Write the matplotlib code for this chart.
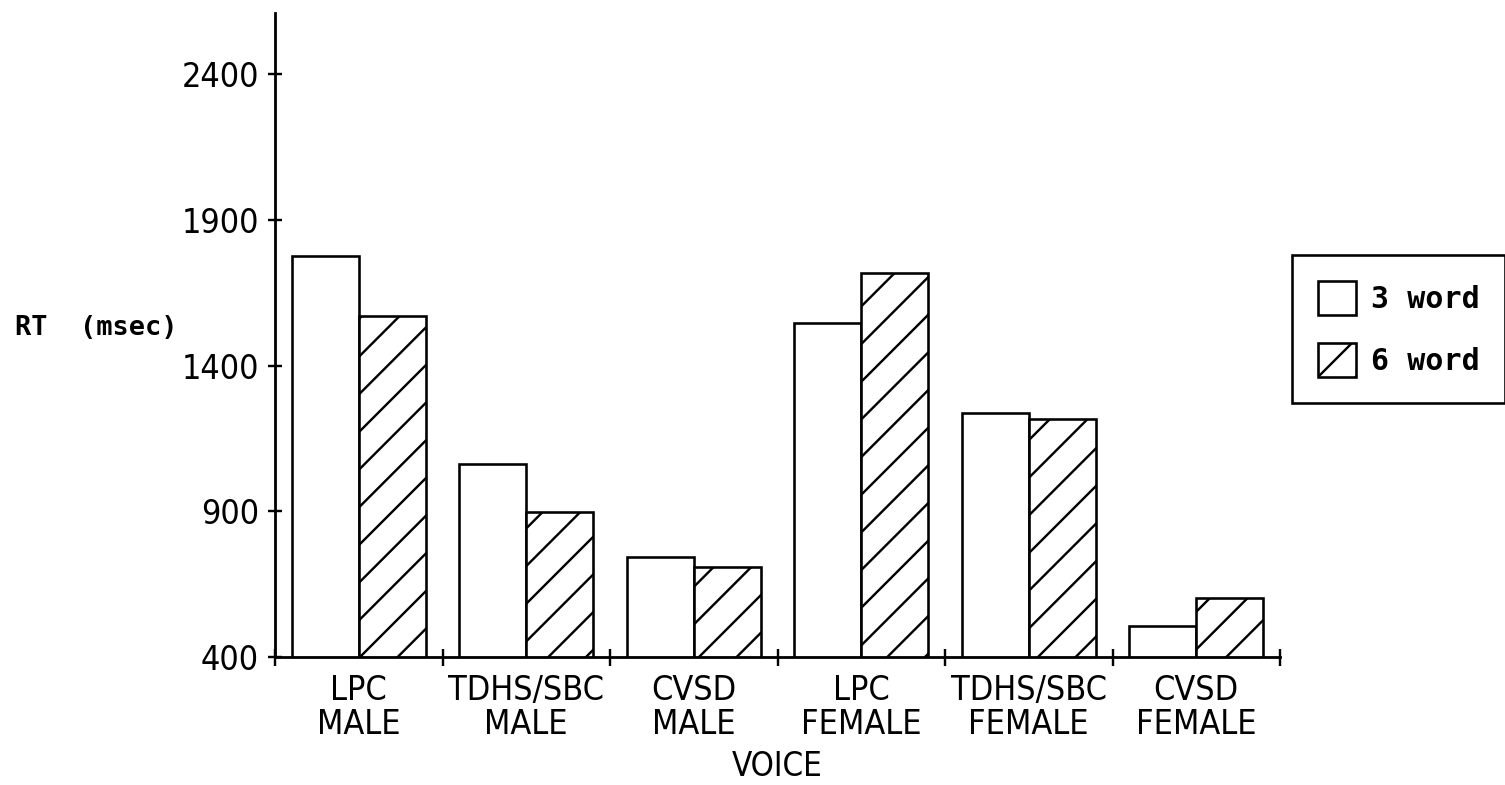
import matplotlib
matplotlib.use("Agg")
import matplotlib.pyplot as plt
from matplotlib.patches import Patch
import numpy as np

# data
voices = ["LPC\nMALE", "TDHS/SBC\nMALE", "CVSD\nMALE",
          "LPC\nFEMALE", "TDHS/SBC\nFEMALE", "CVSD\nFEMALE"]
rt_3word = [1777, 1062, 743, 1546, 1237, 506]
rt_6word = [1570, 898, 709, 1718, 1216, 603]
yticks = [400, 900, 1400, 1900, 2400]

# high dpi so the hatch lines come out widely spaced like the plotter drawing
DPI = 226
PX = 72 / DPI  # points per pixel

plt.rcParams['font.family'] = ['DejaVu Sans']
plt.rcParams['font.stretch'] = 'condensed'
plt.rcParams['hatch.linewidth'] = 2.4 * PX
plt.rcParams['hatch.color'] = 'black'

fig = plt.figure(figsize=(1505 / DPI, 785 / DPI), dpi=DPI)
W, H = 1505, 785
ax = fig.add_axes([275 / W, 1 - 657 / H, (1280 - 275) / W, (657 - 13) / H])

x = np.arange(len(voices))
bw = 0.4
lw = 2.6 * PX
ax.bar(x - bw / 2, rt_3word, bw, color='white', edgecolor='black', linewidth=lw)
ax.bar(x + bw / 2, rt_6word, bw, color='white', edgecolor='black', linewidth=lw,
       hatch='//')

ax.set_xlim(-0.5, len(voices) - 0.5)
ax.set_ylim(400, 2610)

for s in ['top', 'right']:
    ax.spines[s].set_visible(False)
for s in ['left', 'bottom']:
    ax.spines[s].set_linewidth(2.8 * PX)

# y axis
ax.set_yticks(yticks)
ax.set_yticklabels([str(v) for v in yticks])
ax.tick_params(axis='y', direction='inout', length=14 * PX, width=2.4 * PX,
               pad=9 * PX, labelsize=34 * PX)

# x axis: crosses between the groups, labels under group centres
ax.set_xticks(np.arange(-0.5, len(voices)))
ax.set_xticklabels([])
ax.tick_params(axis='x', which='major', direction='inout', length=17 * PX,
               width=2.4 * PX)
ax.set_xticks(x, minor=True)
ax.set_xticklabels(voices, minor=True, linespacing=1.05)
ax.tick_params(axis='x', which='minor', length=0, pad=17 * PX,
               labelsize=34 * PX)

ax.set_xlabel("VOICE", fontsize=33 * PX, labelpad=9 * PX)

mono = ['DejaVu Sans Mono']
fig.text(15 / W, 1 - 328 / H, "RT  (msec)", fontsize=27 * PX, family=mono,
         fontweight='bold', stretch='normal', va='center', ha='left')

handles = [Patch(facecolor='white', edgecolor='black', linewidth=lw),
           Patch(facecolor='white', edgecolor='black', linewidth=lw, hatch='//')]
leg = fig.legend(handles, ["3 word", "6 word"], loc='upper left',
                 bbox_to_anchor=(1292 / W, 1 - 255 / H), borderaxespad=0,
                 fancybox=False, edgecolor='black', framealpha=1,
                 prop={'family': mono, 'weight': 'bold', 'size': 30 * PX,
                       'stretch': 'normal'},
                 handlelength=1.27, handleheight=1.37, handletextpad=0.5,
                 labelspacing=0.95, borderpad=0.85)
leg.get_frame().set_linewidth(2.6 * PX)

fig.savefig("out.png", dpi=DPI, facecolor='white')
